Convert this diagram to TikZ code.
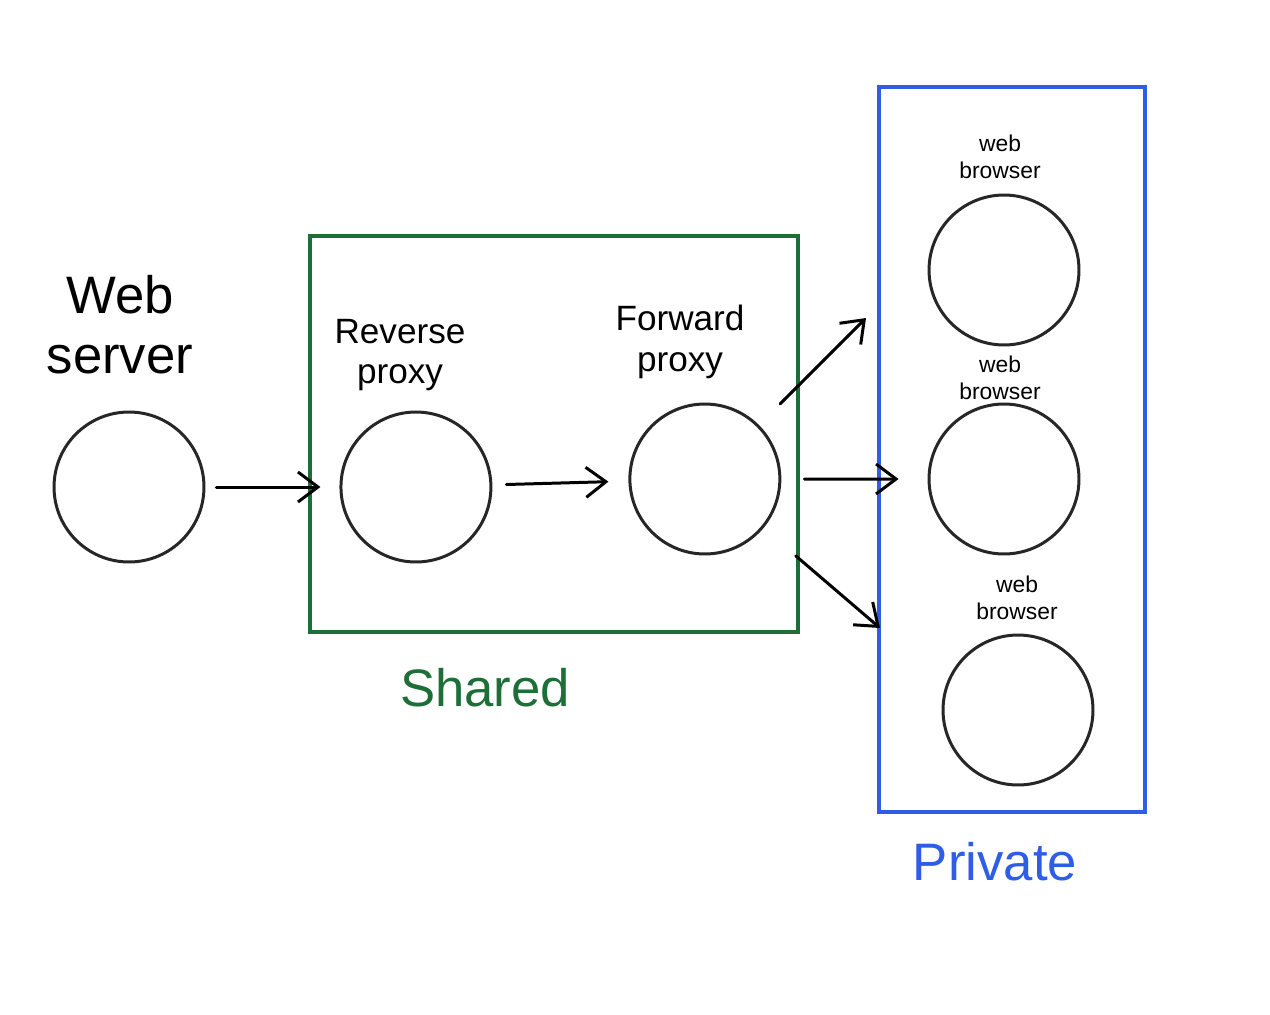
\documentclass[tikz,border=0pt]{standalone}
\usepackage{fontspec}
\setmainfont{Liberation Sans}
\usepackage{xcolor}
\usetikzlibrary{arrows.meta,positioning}

\definecolor{sharedgreen}{HTML}{1E6E37}
\definecolor{privateblue}{HTML}{2F5DE6}

\begin{document}
\begin{tikzpicture}[
    x=0.02cm, y=-0.02cm,
    host/.style={circle, draw=black!85, line width=1.7pt, minimum size=3cm, inner sep=0pt},
    flow/.style={draw, line width=1.7pt, line cap=round, -{Straight Barb[length=4mm, width=6mm]}},
    biglabel/.style={font=\fontsize{30}{34}\selectfont, align=center},
    midlabel/.style={font=\fontsize{20}{23}\selectfont, align=center},
    smalllabel/.style={font=\fontsize{13}{15}\selectfont, align=center}
]
    \useasboundingbox[fill=white] (0,0) rectangle (1270,1014);

    % Hosts
    \node[host] (server) at (129,487) {};
    \node[host, right=2.68cm of server] (rproxy) {};
    \node[host, right=2.72cm of rproxy, yshift=0.16cm] (fproxy) {};
    \node[host] (browserA) at (1004,270) {};
    \node[host] (browserB) at (1004,479) {};
    \node[host] (browserC) at (1018,710) {};

    % Boxes
    \draw[sharedgreen, line width=1.8pt] (310,236) rectangle (798,632);
    \draw[privateblue, line width=1.8pt] (879,87) rectangle (1145,812);

    % Labels
    \node[biglabel] (serverlbl) at (120,325) {Web\\server};
    \node[midlabel] (rproxylbl) at (400,355) {Reverse\\proxy};
    \node[midlabel] (fproxylbl) at (680,342) {Forward\\proxy};
    \node[smalllabel] (browserAlbl) at (1000,157) {web\\browser};
    \node[smalllabel] (browserBlbl) at (1000,378) {web\\browser};
    \node[smalllabel] (browserClbl) at (1017,598) {web\\browser};
    \node[biglabel, text=sharedgreen] (sharedlbl) at (485,688) {Shared};
    \node[biglabel, text=privateblue] (privatelbl) at (995,862) {Private};

    % Arrows
    \coordinate (upTip) at (866,318);
    \coordinate (downTip) at (880,628);
    \path[flow, shorten <=0.22cm, shorten >=0.38cm] (server) -- (rproxy);
    \path[flow, shorten <=0.28cm, shorten >=0.4cm] (rproxy) -- (fproxy);
    \path[flow, shorten <=0.46cm, shorten >=0.58cm] (fproxy) -- (browserB);
    \path[flow, shorten <=0.6cm] (fproxy.north east) -- (upTip);
    \path[flow, shorten <=0.85cm] (fproxy.-40) -- (downTip);
\end{tikzpicture}
\end{document}
